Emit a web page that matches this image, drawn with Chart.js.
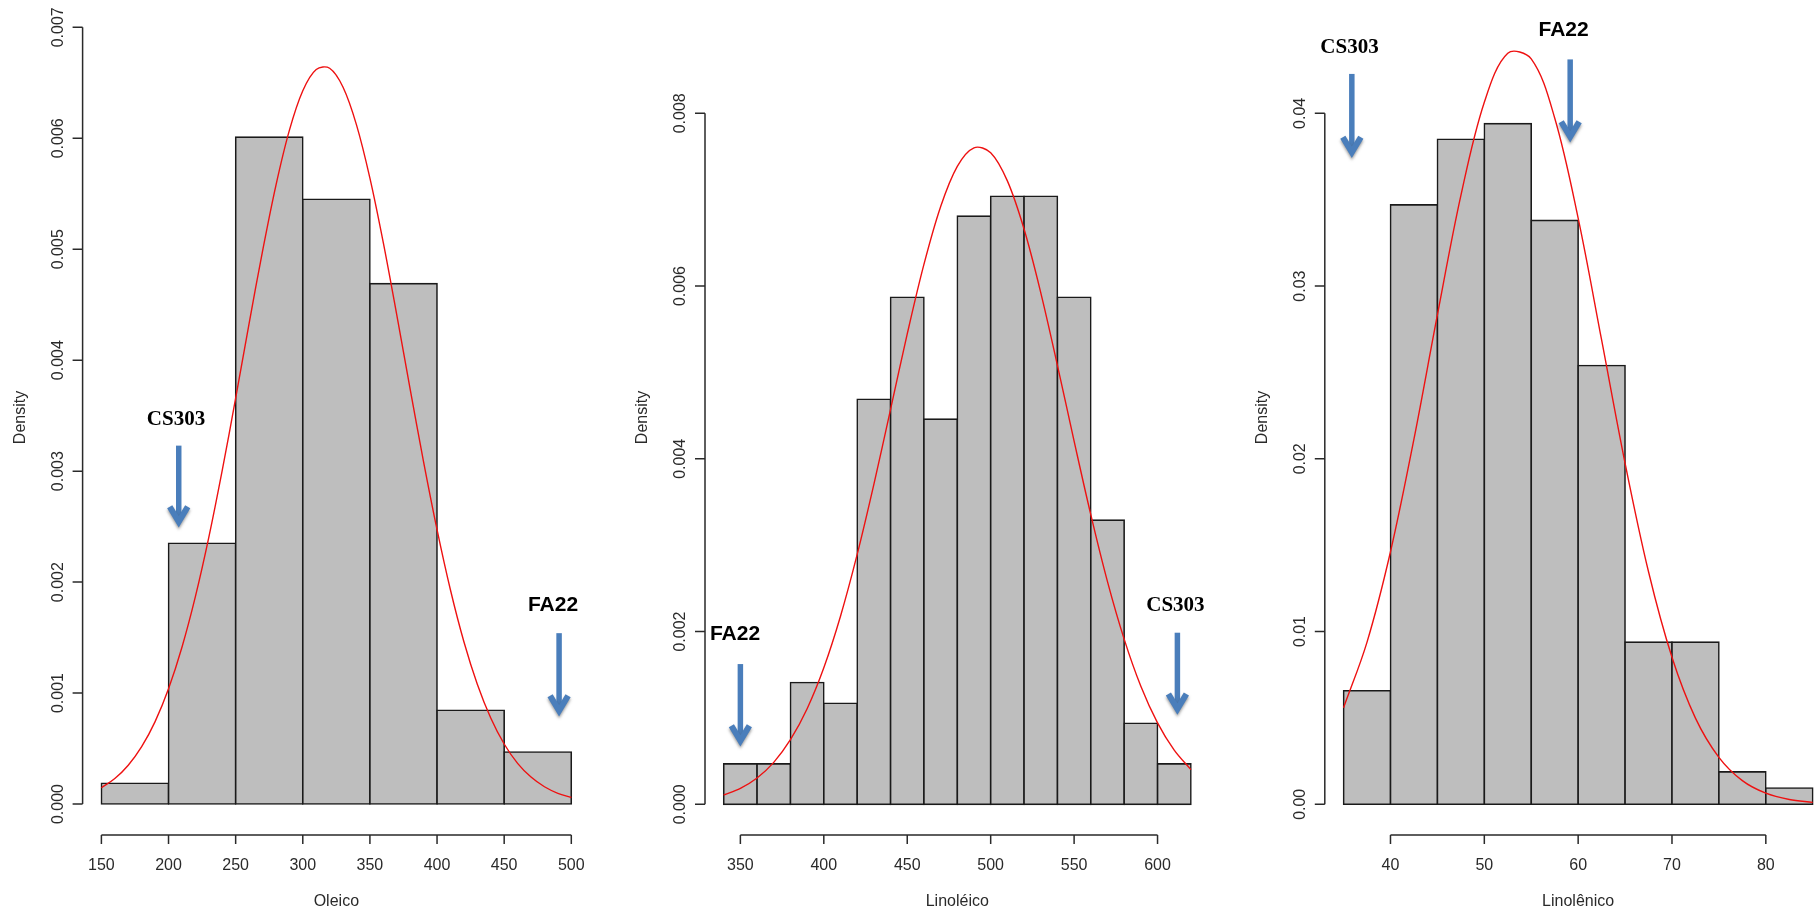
<!DOCTYPE html>
<html>
<head>
<meta charset="utf-8">
<title>Histogramas de ácidos graxos</title>
<script src="https://cdn.jsdelivr.net/npm/chart.js@4.4.1/dist/chart.umd.min.js"></script>
<style>
  html, body { margin: 0; padding: 0; background: #fff; width: 1816px; height: 914px; overflow: hidden; position: relative; }
  canvas { position: absolute; top: 0; }
</style>
</head>
<body>
<canvas id="oleico" width="600" height="914" style="left:0px"></canvas>
<canvas id="linoleico" width="615" height="914" style="left:600px"></canvas>
<canvas id="linolenico" width="640" height="914" style="left:1215px"></canvas>
<script>
// ---- Oleico ----
const oleicoEdges = [150, 200, 250, 300, 350, 400, 450, 500];
const oleicoDensity = [0.000188, 0.00235, 0.00601, 0.00545, 0.00469, 0.000845, 0.000469];
const oleicoCurveX = [150, 160, 170, 180, 190, 200, 210, 220, 230, 240, 250, 260, 270, 280, 290, 300, 310, 320,
  330, 340, 350, 360, 370, 380, 390, 400, 410, 420, 430, 440, 450, 460, 470, 480, 490, 500];
const oleicoCurveY = [0.000147, 0.000230, 0.000350, 0.000517, 0.000743, 0.001039, 0.001413, 0.001869, 0.002403,
  0.003006, 0.003658, 0.004329, 0.004981, 0.005576, 0.006071, 0.006428, 0.006620, 0.006631, 0.006460, 0.006121,
  0.005641, 0.005057, 0.004408, 0.003737, 0.003082, 0.002473, 0.001929, 0.001463, 0.001080, 0.000775, 0.000541,
  0.000367, 0.000243, 0.000156, 0.000097, 0.000059];
const oleicoXTicks = ['150', '200', '250', '300', '350', '400', '450', '500'];
const oleicoYTicks = ['0.000', '0.001', '0.002', '0.003', '0.004', '0.005', '0.006', '0.007'];
const oleicoMarkers = [
  { name: 'CS303', x: 207.6, labelX: 205.6, label: 0.00348, tail: 0.00323, tip: 0.00249 },
  { name: 'FA22', x: 490.9, labelX: 486.4, label: 0.0018, tail: 0.00154, tip: 0.000787 }
];

// ---- Linoléico ----
const linoleicoEdges = [340, 360, 380, 400, 420, 440, 460, 480, 500, 520, 540, 560, 580, 600, 620];
const linoleicoDensity = [0.000469, 0.000469, 0.00141, 0.00117, 0.00469, 0.00587, 0.00446, 0.00681, 0.00704,
  0.00704, 0.00587, 0.00329, 0.000939, 0.000469];
const linoleicoCurveX = [340, 350, 360, 370, 380, 390, 400, 410, 420, 430, 440, 450, 460, 470, 480, 490, 500,
  510, 520, 530, 540, 550, 560, 570, 580, 590, 600, 610, 620];
const linoleicoCurveY = [0.000108, 0.000185, 0.000305, 0.000486, 0.000748, 0.001107, 0.001581, 0.002178,
  0.002893, 0.003704, 0.004573, 0.005446, 0.006251, 0.006919, 0.007386, 0.007601, 0.007544, 0.007218, 0.006660,
  0.005925, 0.005083, 0.004205, 0.003354, 0.002579, 0.001913, 0.001367, 0.000943, 0.000627, 0.000402];
const linoleicoXTicks = ['350', '400', '450', '500', '550', '600'];
const linoleicoYTicks = ['0.000', '0.002', '0.004', '0.006', '0.008'];
const linoleicoMarkers = [
  { name: 'FA22', x: 350, labelX: 346.8, label: 0.00198, tail: 0.001624, tip: 0.000667 },
  { name: 'CS303', x: 611.9, labelX: 610.7, label: 0.002319, tail: 0.001987, tip: 0.001034 }
];

// ---- Linolênico ----
const linolenicoEdges = [35, 40, 45, 50, 55, 60, 65, 70, 75, 80, 85];
const linolenicoDensity = [0.00657, 0.0347, 0.0385, 0.0394, 0.0338, 0.0254, 0.00939, 0.00939, 0.00188, 0.00094];
const linolenicoCurveX = [35, 37.5, 40, 42.5, 45, 47.5, 50, 52.5, 55, 57.5, 60, 62.5, 65, 67.5, 70, 72.5, 75,
  77.5, 80, 82.5, 85];
const linolenicoCurveY = [0.00559, 0.00939, 0.01462, 0.02114, 0.02833, 0.03523, 0.04064, 0.04348, 0.04315,
  0.03973, 0.03393, 0.02688, 0.01975, 0.01346, 0.00851, 0.00499, 0.00272, 0.00137, 0.000642, 0.000279, 0.000112];
const linolenicoXTicks = ['40', '50', '60', '70', '80'];
const linolenicoYTicks = ['0.00', '0.01', '0.02', '0.03', '0.04'];
const linolenicoMarkers = [
  { name: 'CS303', x: 35.88, labelX: 35.63, label: 0.04391, tail: 0.04228, tip: 0.0374 },
  { name: 'FA22', x: 59.15, labelX: 58.45, label: 0.04486, tail: 0.04312, tip: 0.0383 }
];

const AXIS_FONT = '16px "Liberation Sans", Arial, sans-serif';
const markerFont = {
  CS303: 'bold 21px "Liberation Serif", "Times New Roman", serif',
  FA22: 'bold 21px "Liberation Sans", Arial, sans-serif'
};
const ARROW_BLUE = '#4a7ebb';

// R-style axes: lines only span first..last tick, offset from the bars
const rAxesPlugin = {
  id: 'rAxes',
  afterDraw(chart, args, o) {
    const { ctx, chartArea: a, scales: { x, y } } = chart;
    ctx.save();
    ctx.strokeStyle = '#2a2a2a';
    ctx.fillStyle = '#2a2a2a';
    ctx.lineWidth = 1.5;
    ctx.font = AXIS_FONT;

    const xs = o.xTicks.map(t => x.getPixelForValue(parseFloat(t)));
    ctx.beginPath();
    ctx.moveTo(xs[0], a.bottom);
    ctx.lineTo(xs[xs.length - 1], a.bottom);
    xs.forEach(p => { ctx.moveTo(p, a.bottom); ctx.lineTo(p, a.bottom + 9); });
    ctx.stroke();
    ctx.textAlign = 'center';
    ctx.textBaseline = 'middle';
    o.xTicks.forEach((t, i) => ctx.fillText(t, xs[i], a.bottom + 31));
    ctx.fillText(o.xTitle, (a.left + a.right) / 2, a.bottom + 67);

    const ys = o.yTicks.map(t => y.getPixelForValue(parseFloat(t)));
    ctx.beginPath();
    ctx.moveTo(a.left, ys[0]);
    ctx.lineTo(a.left, ys[ys.length - 1]);
    ys.forEach(p => { ctx.moveTo(a.left, p); ctx.lineTo(a.left - 10, p); });
    ctx.stroke();
    o.yTicks.forEach((t, i) => {
      ctx.save();
      ctx.translate(a.left - 24, ys[i]);
      ctx.rotate(-Math.PI / 2);
      ctx.fillText(t, 0, 0);
      ctx.restore();
    });
    ctx.save();
    ctx.translate(a.left - 62, (a.top + a.bottom) / 2);
    ctx.rotate(-Math.PI / 2);
    ctx.fillText('Density', 0, 0);
    ctx.restore();
    ctx.restore();
  }
};

// blue arrows pointing at the parents' positions, with their names above
const markersPlugin = {
  id: 'markers',
  afterDraw(chart, args, o) {
    const { ctx, scales: { x, y } } = chart;
    o.items.forEach(m => {
      const px = x.getPixelForValue(m.x);
      const tail = y.getPixelForValue(m.tail);
      const tip = y.getPixelForValue(m.tip);
      ctx.save();
      ctx.strokeStyle = ARROW_BLUE;
      ctx.lineWidth = 5.5;
      ctx.beginPath();
      ctx.moveTo(px, tail);
      ctx.lineTo(px, tip - 8);
      ctx.stroke();
      ctx.shadowColor = 'rgba(70,70,70,0.55)';
      ctx.shadowBlur = 3;
      ctx.shadowOffsetY = 2;
      ctx.lineWidth = 6;
      ctx.lineJoin = 'miter';
      ctx.beginPath();
      ctx.moveTo(px - 9, tip - 21);
      ctx.lineTo(px, tip - 6);
      ctx.lineTo(px + 9, tip - 21);
      ctx.stroke();
      ctx.restore();

      ctx.save();
      ctx.font = markerFont[m.name];
      ctx.fillStyle = '#000';
      ctx.textAlign = 'center';
      ctx.textBaseline = 'alphabetic';
      ctx.fillText(m.name, x.getPixelForValue(m.labelX), y.getPixelForValue(m.label) + 7);
      ctx.restore();
    });
  }
};

function histogram(canvasId, d) {
  const centers = d.density.map((_, i) => (d.edges[i] + d.edges[i + 1]) / 2);
  return new Chart(document.getElementById(canvasId), {
    type: 'bar',
    data: {
      datasets: [
        {
          type: 'line',
          data: d.curveX.map((v, i) => ({ x: v, y: d.curveY[i] })),
          borderColor: '#ee1111',
          borderWidth: 1.4,
          pointRadius: 0,
          tension: 0.35,
          order: 0
        },
        {
          type: 'bar',
          data: centers.map((v, i) => ({ x: v, y: d.density[i] })),
          backgroundColor: '#bebebe',
          borderColor: '#1a1a1a',
          borderWidth: 1.6,
          inflateAmount: 0.8,
          borderSkipped: false,
          barPercentage: 1,
          categoryPercentage: 1,
          order: 1
        }
      ]
    },
    options: {
      responsive: false,
      animation: false,
      devicePixelRatio: 1,
      layout: { padding: d.padding },
      plugins: {
        legend: { display: false },
        tooltip: { enabled: false },
        rAxes: { xTicks: d.xTicks, yTicks: d.yTicks, xTitle: d.xTitle },
        markers: { items: d.markers }
      },
      scales: {
        x: { type: 'linear', min: d.xRange[0], max: d.xRange[1], offset: false, display: false },
        y: { type: 'linear', min: d.yRange[0], max: d.yRange[1], display: false }
      }
    },
    plugins: [rAxesPlugin, markersPlugin]
  });
}

histogram('oleico', {
  edges: oleicoEdges, density: oleicoDensity, curveX: oleicoCurveX, curveY: oleicoCurveY,
  xTicks: oleicoXTicks, yTicks: oleicoYTicks, xTitle: 'Oleico', markers: oleicoMarkers,
  xRange: [136, 514], yRange: [-0.000279, 0.007246],
  padding: { left: 82.6, right: 9.9, top: 0, bottom: 79 }
});

histogram('linoleico', {
  edges: linoleicoEdges, density: linoleicoDensity, curveX: linoleicoCurveX, curveY: linoleicoCurveY,
  xTicks: linoleicoXTicks, yTicks: linoleicoYTicks, xTitle: 'Linoléico', markers: linoleicoMarkers,
  xRange: [328.8, 631.2], yRange: [-0.000355, 0.009312],
  padding: { left: 105, right: 5.4, top: 0, bottom: 79 }
});

histogram('linolenico', {
  edges: linolenicoEdges, density: linolenicoDensity, curveX: linolenicoCurveX, curveY: linolenicoCurveY,
  xTicks: linolenicoXTicks, yTicks: linolenicoYTicks, xTitle: 'Linolênico', markers: linolenicoMarkers,
  xRange: [33, 87], yRange: [-0.001777, 0.046559],
  padding: { left: 109.8, right: 23.5, top: 0, bottom: 79 }
});
</script>
</body>
</html>
